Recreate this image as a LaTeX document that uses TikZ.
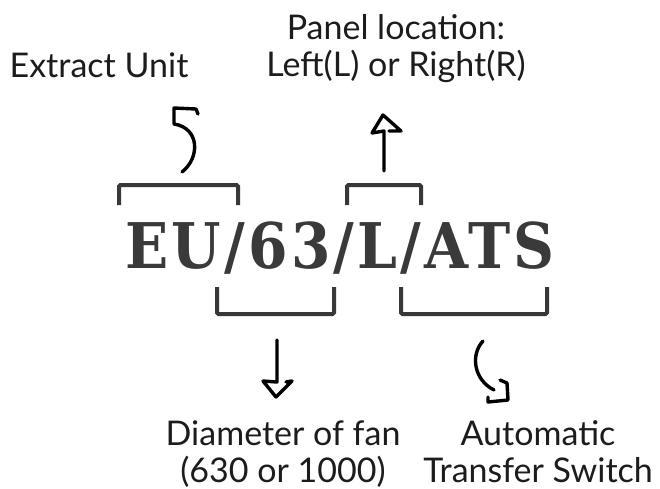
\documentclass[tikz,border=0pt]{standalone}
\usepackage{fontspec}
\setmainfont{Lato}
\newfontfamily\codefont[LetterSpace=5]{DejaVu Serif Condensed}
\usetikzlibrary{positioning}
\definecolor{codegray}{HTML}{3A3A3A}
\definecolor{brkgray}{HTML}{383838}
\definecolor{labgray}{HTML}{1C1C1C}

\begin{document}
\begin{tikzpicture}[
  x=1pt, y=-1pt,
  lab/.style={align=center, inner sep=0pt, anchor=base, text=labgray,
              font=\fontsize{34}{37}\selectfont},
  code/.style={inner sep=0pt, anchor=base, text=codegray,
               font=\codefont\bfseries\fontsize{63}{63}\selectfont},
  brk/.style={draw=brkgray, line width=4pt, rounded corners=1.5pt},
  sketch/.style={draw=black, line width=3.4pt, line cap=round, line join=round}
]
\useasboundingbox (0,0) rectangle (660,488);

% the product code
\node[code] (code) at (340,268) {EU/63/L/ATS};

% labels
\node[lab] (unit) at (99,77) {Extract Unit};
\node[lab] (panel) at (396,76) {Panel location:\\Left(L) or Right(R)};
\node[lab] (fan) at (283,482) {Diameter of fan\\(630 or 1000)};
\node[lab] (ats) at (538,482) {Automatic\\Transfer Switch};

% brackets over and under the code
\draw[brk] (119,205) -- (119,185) -- (238,185) -- (238,205);
\draw[brk] (347,205) -- (347,185) -- (421,185) -- (421,205);
\draw[brk] (217,287) -- (217,314) -- (334,314) -- (334,287);
\draw[brk] (401,287) -- (401,314) -- (547,314) -- (547,287);

% sketchy arrows
\draw[sketch] (182,172) .. controls (200,158) and (200,128) .. (174,124)
  -- (174,108) -- (196,109) -- (198,114);
\draw[sketch] (384,171) -- (384,131) -- (372,133) -- (383,115) -- (401,131) -- (389,131);
\draw[sketch] (277,340) -- (277,382) -- (263,381) -- (276,397) -- (292,381) -- (286,382);
\draw[sketch] (483,341) .. controls (470,355) and (474,380) .. (494,390);
\draw[sketch] (500,380) -- (507,383) -- (508,400) -- (488,402) -- (488,397);
\end{tikzpicture}
\end{document}
